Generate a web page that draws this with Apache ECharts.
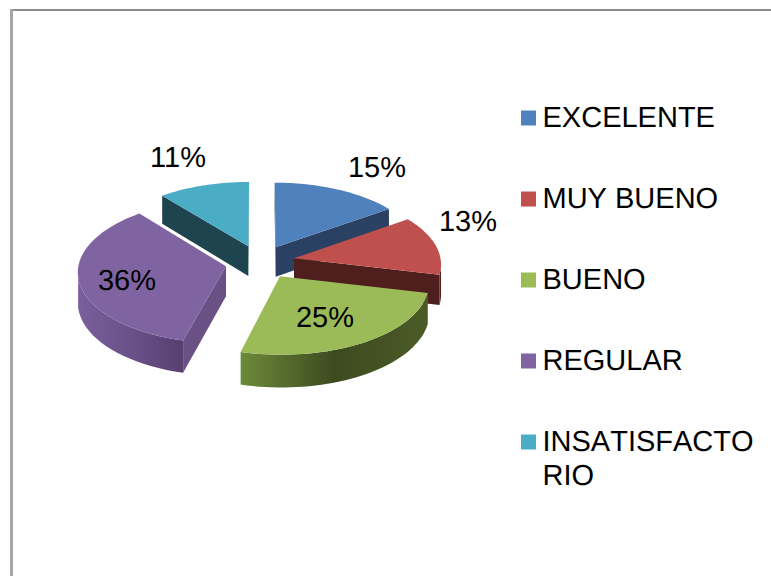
<!DOCTYPE html>
<html>
<head>
<meta charset="utf-8">
<title>Pie</title>
<script src="https://cdn.jsdelivr.net/npm/echarts@6/dist/echarts.min.js"></script>
<style>
  html, body { margin: 0; padding: 0; background: #fff; }
  #chart { width: 771px; height: 576px; }
  #chart text { font-kerning: none; text-rendering: geometricPrecision; }
</style>
</head>
<body>
<div id="chart"></div>
<script>
// data
const categories = ["EXCELENTE", "MUY BUENO", "BUENO", "REGULAR", "INSATISFACTORIO"];
const shares = [15, 13, 25, 36, 11];

// look
const topColors = ["#4f81bd", "#c0504d", "#9bbb59", "#8064a2", "#4bacc6"];
const cutColors = ["#2a4163", "#4f1f1e", "#3f4c20", "#6a5085", "#1e4450"];
const rimStops = [
  ["#2a4163", "#2a4163"],
  ["#4f1f1e", "#4f1f1e"],
  ["#6c8a3c", "#3d4a1f", "#4b5b27"],
  ["#7a5f9c", "#6b5189", "#573f70"],
  ["#1e4450", "#1e4450"],
];
const paintOrder = [1, 2, 3, 4, 0]; // back slices get painted first
const labelCenters = [[377, 168], [468, 222], [325, 318], [127, 281], [178, 158]];

// fake 3D pie: disc in perspective, slices pulled out of the middle
const cx = 260, cy = 262, radius = 147, squash = 0.483, persp = 0.07, depth = 30, pull = 0.238;
const twist = (4 * Math.PI) / 180; // the view turns the near side of the disc a little

function project(u, v) {
  const f = 1 / (1 - persp * v);
  return [cx + radius * u * f, cy + radius * squash * v * f, depth * f];
}

const total = shares.reduce((a, b) => a + b, 0);
let running = 0;
const sweeps = shares.map((s) => {
  const from = (running / total) * 2 * Math.PI;
  running += s;
  return [from, (running / total) * 2 * Math.PI];
});

function sliceOutline(i) {
  const [a0, a1] = sweeps[i];
  const mid = (a0 + a1) / 2;
  const eu = Math.sin(mid) * pull, ev = -Math.cos(mid) * pull;
  const arc = [];
  const steps = 40;
  for (let n = 0; n <= steps; n++) {
    const a = a0 + ((a1 - a0) * n) / steps;
    const seen = a + twist * Math.pow(Math.sin(a / 2), 2);
    arc.push(project(eu + Math.sin(seen), ev - Math.cos(seen)));
  }
  return { apex: project(eu, ev), arc };
}

function wall(p, q, fill, z2) {
  return {
    type: "polygon",
    z2,
    shape: { points: [[p[0], p[1]], [q[0], q[1]], [q[0], q[1] + q[2]], [p[0], p[1] + p[2]]] },
    style: { fill },
  };
}

function drawSlice(i) {
  const { apex, arc } = sliceOutline(i);
  const base = paintOrder[i] * 10;
  const kids = [];
  const first = arc[0], last = arc[arc.length - 1];
  // cut faces, only those turned to the viewer
  if (first[0] < apex[0]) kids.push(wall(apex, first, cutColors[i], base));
  if (apex[0] < last[0]) kids.push(wall(last, apex, cutColors[i], base));
  // rim, the part of the arc running right to left
  const front = arc.filter((p, n) => (n < arc.length - 1 ? arc[n + 1][0] < p[0] : arc[n - 1][0] > p[0]));
  if (front.length > 1) {
    const stops = rimStops[i];
    const rimTop = front.map((p) => [p[0], p[1]]);
    const rimBottom = front.map((p) => [p[0], p[1] + p[2]]).reverse();
    kids.push({
      type: "polygon",
      z2: base + 1,
      shape: { points: rimTop.concat(rimBottom) },
      style: {
        fill: new echarts.graphic.LinearGradient(0, 0, 1, 0,
          stops.map((color, n) => ({ offset: n / (stops.length - 1), color }))),
      },
    });
  }
  kids.push({
    type: "polygon",
    z2: base + 2,
    shape: { points: [[apex[0], apex[1]]].concat(arc.map((p) => [p[0], p[1]])) },
    style: { fill: topColors[i] },
  });
  kids.push({
    type: "text",
    z2: 100,
    style: {
      text: shares[i] + "%",
      x: labelCenters[i][0],
      y: labelCenters[i][1],
      align: "center",
      verticalAlign: "middle",
      font: '29px "Liberation Sans"',
      fill: "#000",
    },
  });
  return { type: "group", children: kids };
}

// svg renderer so the css above can switch kerning off
const chart = echarts.init(document.getElementById("chart"), null, { renderer: "svg" });
const legendBase = {
  orient: "vertical",
  left: 521,
  padding: 0,
  icon: "path://M0 0H15V15H0Z",
  itemWidth: 18,
  itemHeight: 15,
  selectedMode: false,
  textStyle: { fontFamily: "Liberation Sans", fontSize: 29, color: "#000", lineHeight: 34 },
};
chart.setOption({
  animation: false,
  backgroundColor: "#fff",
  legend: [
    Object.assign({}, legendBase, {
      top: 101,
      itemGap: 47,
      data: categories.slice(0, 4),
    }),
    Object.assign({}, legendBase, {
      top: 391,
      data: categories.slice(4),
      formatter: () => "\nINSATISFACTO\nRIO",
    }),
  ],
  graphic: [
    { type: "rect", shape: { x: 10, y: 9, width: 761, height: 2 }, style: { fill: "#8c8c8c" } },
    { type: "rect", shape: { x: 10, y: 9, width: 3, height: 567 }, style: { fill: "#a6a6a6" } },
  ],
  series: categories.map((name, i) => ({
    type: "custom",
    name,
    coordinateSystem: "none",
    silent: true,
    z: 2 + paintOrder[i],
    itemStyle: { color: topColors[i] },
    data: [shares[i]],
    renderItem: () => drawSlice(i),
  })),
});
</script>
</body>
</html>
